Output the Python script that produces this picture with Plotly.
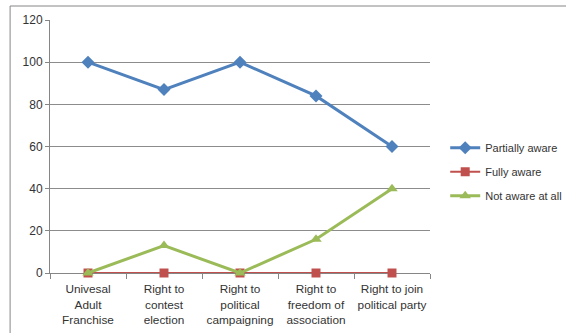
import plotly.graph_objects as go

categories = ["Univesal<br>Adult<br>Franchise", "Right to<br>contest<br>election",
              "Right to<br>political<br>campaigning", "Right to<br>freedom of<br>association",
              "Right to join<br>political party"]
partially_aware = [100, 87, 100, 84, 60]
fully_aware = [0, 0, 0, 0, 0]
not_aware = [0, 13, 0, 16, 40]

FONT = "Liberation Sans"
fig = go.Figure()
fig.add_trace(go.Scatter(x=categories, y=partially_aware, name="Partially aware", mode="lines+markers",
                         line=dict(color="#4F81BD", width=3), marker=dict(symbol="diamond", size=10),
                         legendgroup="a", cliponaxis=False))
fig.add_trace(go.Scatter(x=categories, y=fully_aware, name="Fully aware", mode="lines+markers",
                         line=dict(color="#C0504D", width=2), marker=dict(symbol="square", size=9),
                         legendgroup="b", cliponaxis=False))
fig.add_trace(go.Scatter(x=categories, y=not_aware, name="Not aware at all", mode="lines+markers",
                         line=dict(color="#9BBB59", width=3), marker=dict(symbol="triangle-up", size=10),
                         legendgroup="c", cliponaxis=False))

fig.update_layout(
    width=566, height=333,
    margin=dict(l=50, r=136, t=20, b=60, autoexpand=False),
    plot_bgcolor="white", paper_bgcolor="white",
    font=dict(family=FONT, size=11, color="#333333"),
    showlegend=True,
    legend=dict(x=1.04, y=0.40, xanchor="left", yanchor="middle", font=dict(size=11, color="#333333"),
                tracegroupgap=5, traceorder="grouped", bgcolor="rgba(0,0,0,0)"),
    xaxis=dict(type="category", range=[-0.5, 4.5], showgrid=False, showline=True, linecolor="#868686",
               linewidth=1, ticks="outside", tickson="boundaries", ticklen=5, tickcolor="#868686",
               tickfont=dict(size=11.8), tickangle=0, automargin=False, zeroline=False,
               layer="below traces", ticklabelstandoff=5),
    yaxis=dict(range=[0, 120], tickvals=[0, 20, 40, 60, 80, 100, 120], showgrid=True, gridcolor="#8c8c8c",
               gridwidth=1, showline=True, linecolor="#868686", ticks="outside", ticklen=4,
               tickcolor="#868686", zeroline=False, tickfont=dict(size=12), automargin=False,
               layer="below traces"),
    shapes=[
        dict(type="line", xref="paper", yref="paper", x0=-0.105, x1=1.36, y0=1.0553, y1=1.0553,
             line=dict(color="#868686", width=1)),
        dict(type="line", xref="paper", yref="paper", x0=-0.105, x1=-0.105, y0=1.0553, y1=-0.25,
             line=dict(color="#868686", width=1)),
    ],
)
fig.write_html("out.html")
